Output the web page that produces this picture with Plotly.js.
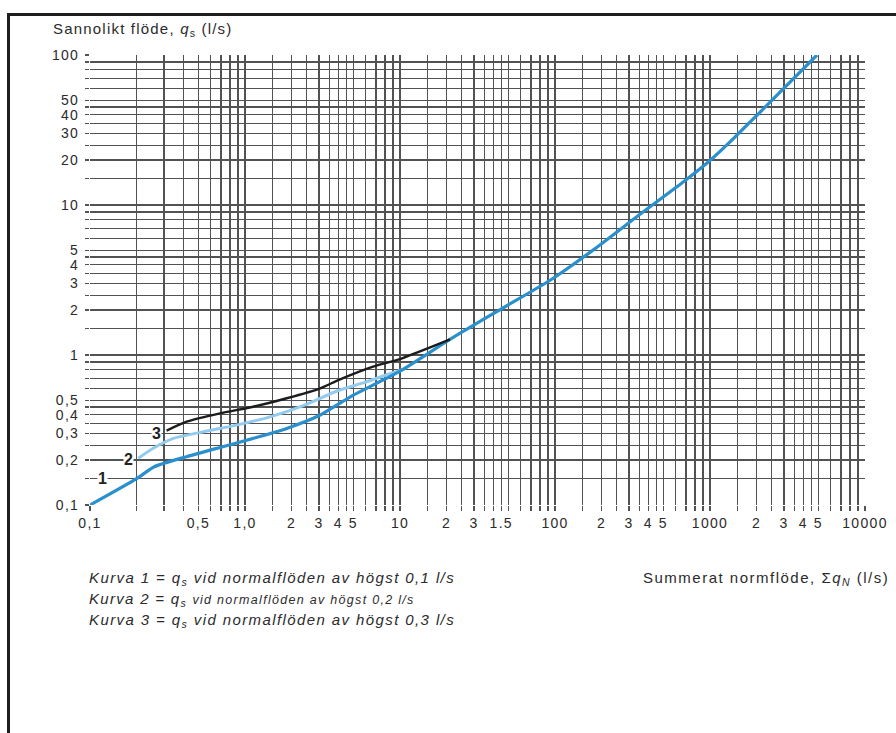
<!DOCTYPE html>
<html>
<head>
<meta charset="utf-8">
<script src="https://cdn.plot.ly/plotly-3.0.1.min.js"></script>
<style>
  html, body { margin: 0; padding: 0; background: #fff; overflow: hidden; }
  #chart { position: absolute; left: 0; top: 0; width: 896px; height: 733px; }
  #frame { position: absolute; left: 7px; top: 13px; width: 1000px; height: 1000px;
           border-left: 3px solid #1e1e1e; border-top: 3px solid #1e1e1e; pointer-events: none; }
  #chart .xtick text, #chart .ytick text { letter-spacing: 1.3px; }
</style>
</head>
<body>
<div id="chart"></div>
<div id="frame"></div>
<script>
// ---- data ----
const curve1X = [0.1, 0.2, 0.26, 0.42, 0.69, 1.13, 1.86, 3.06, 4.0, 5.0, 10, 21, 44, 93, 176, 350, 688, 1000, 1410, 2000, 4900];
const curve1Y = [0.1, 0.15, 0.18, 0.21, 0.242, 0.278, 0.324, 0.398, 0.47, 0.54, 0.78, 1.27, 2.0, 3.15, 5.0, 8.6, 14.5, 19.8, 27.6, 39.5, 100];

const curve2X = [0.205, 0.256, 0.345, 0.54, 0.88, 1.45, 2.38, 4.0, 6.0, 8.6, 10.5];
const curve2Y = [0.205, 0.239, 0.278, 0.308, 0.341, 0.387, 0.46, 0.58, 0.66, 0.75, 0.8];

const curve3X = [0.312, 0.42, 0.69, 1.13, 1.86, 3.06, 4.0, 6.7, 10, 18, 21];
const curve3Y = [0.313, 0.359, 0.408, 0.452, 0.515, 0.6, 0.68, 0.836, 0.94, 1.19, 1.27];

const xLabelVals = [0.1, 0.5, 1, 2, 3, 4, 5, 10, 20, 30, 45, 100, 200, 300, 400, 500, 1000, 2000, 3000, 4000, 5000, 10000];
const xLabelText = ["0,1", "0,5", "1,0", "2", "3", "4", "5", "10", "2", "3", "1.5", "100", "2", "3", "4", "5", "1000", "2", "3", "4", "5", "10000"];

const yLabelVals = [0.1, 0.2, 0.3, 0.4, 0.5, 1, 2, 3, 4, 5, 10, 20, 30, 40, 50, 100];
const yLabelText = ["0,1", "0,2", "0,3", "0,4", "0,5", "1", "2", "3", "4", "5", "10", "20", "30", "40", "50", "100"];

const coarseMultipliers = [1, 2, 3, 4, 5, 6, 7, 8, 9];
const fineMultipliers = [1, 1.5, 2, 2.5, 3, 3.5, 4, 4.5, 5, 6, 7, 8, 9];

// ---- grid positions ----
function gridFor(decades, multFor, last) {
  const out = [];
  decades.forEach(d => multFor(d).forEach(m => out.push(Number((m * d).toPrecision(6)))));
  out.push(last);
  return out;
}
const xGrid = gridFor([0.1, 1, 10, 100, 1000], d => d < 1 ? coarseMultipliers : fineMultipliers, 10000);
const yGrid = gridFor([0.1, 1, 10], d => fineMultipliers, 100);

function notLabelled(grid, vals) {
  return grid.filter(g => !vals.some(v => Math.abs(v - g) / g < 1e-6));
}

const font = "Liberation Sans, Arial, Helvetica, sans-serif";
const textCol = "#2b2b2b";
const gridCol = "#525252";

const traces = [
  { x: curve2X, y: curve2Y, mode: "lines", line: { color: "#93cbee", width: 3, shape: "spline", smoothing: 0.6 }, name: "2" },
  { x: curve1X, y: curve1Y, mode: "lines", line: { color: "#2a90cd", width: 3.2, shape: "spline", smoothing: 0.6 }, name: "1" },
  { x: curve3X, y: curve3Y, mode: "lines", line: { color: "#1c1c1c", width: 2.4, shape: "spline", smoothing: 0.6 }, name: "3" }
];

function px2paperX(px) { return (px - 90) / 775; }
function px2paperY(py) { return (505 - py) / 450; }
function spaced(html, px) { return "<span style='letter-spacing:" + px + "px'>" + html + "</span>"; }

const annotations = [
  { text: spaced("Sannolikt flöde, <i>q</i><sub>s</sub> (l/s)", 1.2), xref: "paper", yref: "paper",
    x: px2paperX(51), y: px2paperY(30), xanchor: "left", yanchor: "middle", showarrow: false,
    font: { family: font, size: 15, color: textCol } },
  { text: spaced("Summerat normflöde, Σ<i>q</i><sub><i>N</i></sub> (l/s)", 1.5), xref: "paper", yref: "paper",
    x: px2paperX(891), y: px2paperY(578), xanchor: "right", yanchor: "middle", showarrow: false,
    font: { family: font, size: 15, color: textCol } },
  { text: spaced("<i>Kurva 1 = q<sub>s</sub> vid normalflöden av högst 0,1 l/s</i>", 1.4), xref: "paper", yref: "paper",
    x: px2paperX(87), y: px2paperY(578), xanchor: "left", yanchor: "middle", showarrow: false,
    font: { family: font, size: 15, color: textCol } },
  { text: spaced("<i>Kurva 2 = q<sub>s</sub> <span style='font-size:12.5px'>vid normalflöden av högst 0,2 l/s</span></i>", 1.3), xref: "paper", yref: "paper",
    x: px2paperX(87), y: px2paperY(599), xanchor: "left", yanchor: "middle", showarrow: false,
    font: { family: font, size: 15, color: textCol } },
  { text: spaced("<i>Kurva 3 = q<sub>s</sub> vid normalflöden av högst 0,3 l/s</i>", 1.4), xref: "paper", yref: "paper",
    x: px2paperX(87), y: px2paperY(620), xanchor: "left", yanchor: "middle", showarrow: false,
    font: { family: font, size: 15, color: textCol } },
  { text: "<b>1</b>", xref: "paper", yref: "y", x: px2paperX(102), y: Math.log10(0.15), xanchor: "center", yanchor: "middle",
    showarrow: false, bgcolor: "#ffffff", borderpad: 0, font: { family: font, size: 16, color: "#222" } },
  { text: "<b>2</b>", xref: "paper", yref: "y", x: px2paperX(128), y: Math.log10(0.2), xanchor: "center", yanchor: "middle",
    showarrow: false, bgcolor: "#ffffff", borderpad: 0, font: { family: font, size: 16, color: "#222" } },
  { text: "<b>3</b>", xref: "paper", yref: "y", x: px2paperX(156), y: Math.log10(0.3), xanchor: "center", yanchor: "middle",
    showarrow: false, bgcolor: "#ffffff", borderpad: 0, font: { family: font, size: 16, color: "#222" } }
];

const gridStyle = { showgrid: true, gridcolor: gridCol, gridwidth: 1.3, ticks: "outside", tickcolor: gridCol, tickwidth: 1.3 };

const layout = {
  width: 896, height: 733,
  margin: { l: 90, r: 31, t: 55, b: 228, pad: 0 },
  paper_bgcolor: "#ffffff", plot_bgcolor: "#ffffff",
  showlegend: false,
  font: { family: font, size: 14, color: textCol },
  xaxis: Object.assign({
    type: "log", range: [-1, 4], tickmode: "array",
    tickvals: xLabelVals, ticktext: xLabelText, ticklen: 5,
    tickfont: { family: font, size: 14, color: textCol },
    zeroline: false, showline: false, tickangle: 0, fixedrange: true,
    minor: Object.assign({ tickmode: "array", tickvals: notLabelled(xGrid, xLabelVals), ticklen: 5 }, gridStyle)
  }, gridStyle),
  yaxis: Object.assign({
    type: "log", range: [-1, 2], tickmode: "array",
    tickvals: yLabelVals, ticktext: yLabelText, ticklen: 4, ticklabelstandoff: 3,
    tickfont: { family: font, size: 14, color: textCol },
    zeroline: false, showline: false, fixedrange: true,
    minor: Object.assign({ tickmode: "array", tickvals: notLabelled(yGrid, yLabelVals), ticklen: 4 }, gridStyle)
  }, gridStyle),
  annotations: annotations
};

Plotly.newPlot("chart", traces, layout, { displayModeBar: false, staticPlot: true });
</script>
</body>
</html>
